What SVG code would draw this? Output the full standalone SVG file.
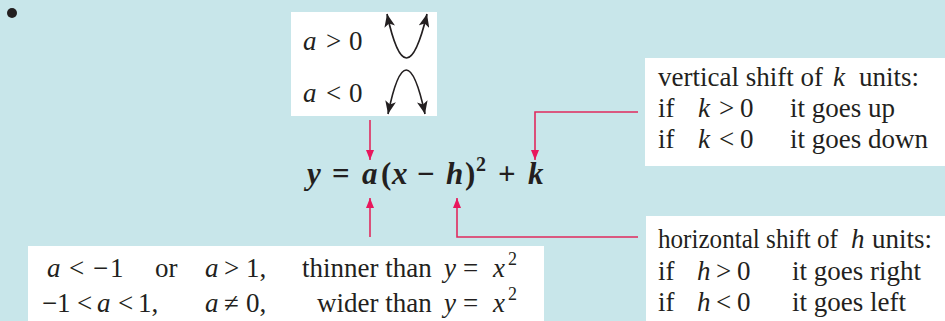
<svg xmlns="http://www.w3.org/2000/svg" width="945" height="321" viewBox="0 0 945 321">
<defs>
<style>
text{font-family:"Liberation Serif","Times New Roman",serif;font-size:27px;fill:#231f20}
.i{font-style:italic}
.f{font-weight:bold;font-style:italic;font-size:31px}
.fo{font-weight:bold;font-size:31px}
.fs{font-weight:bold;font-size:20px}
.sup{font-size:18px}
.box{fill:#ffffff}
.pk{stroke:#e02a5e;stroke-width:1.6;fill:none}
.blk{stroke:#231f20;stroke-width:1.7;fill:none}
</style>
<marker id="ap" viewBox="0 0 10 10" refX="10" refY="5" markerWidth="10" markerHeight="10" markerUnits="userSpaceOnUse" orient="auto">
<path d="M0,1 L10,5 L0,9 Z" fill="#e8175d"/>
</marker>
<marker id="ab" viewBox="0 0 12 10" refX="12" refY="5" markerWidth="13" markerHeight="11" markerUnits="userSpaceOnUse" orient="auto-start-reverse">
<path d="M0,0 L12,5 L0,10 L3,5 Z" fill="#231f20"/>
</marker>
</defs>
<rect x="0" y="0" width="945" height="321" fill="#c8e6ea"/>
<circle cx="12" cy="13" r="5" fill="#231f20"/>

<g id="sign-box">
<rect class="box" x="291" y="12" width="146" height="104"/>
<text x="303" y="50"><tspan class="i">a</tspan><tspan x="326">&gt;</tspan><tspan x="349">0</tspan></text>
<text x="303" y="102"><tspan class="i">a</tspan><tspan x="326">&lt;</tspan><tspan x="349">0</tspan></text>
<path class="blk" d="M387,14 Q406,102 427,14" marker-start="url(#ab)" marker-end="url(#ab)"/>
<path class="blk" d="M388,114 Q406,26 425,114" marker-start="url(#ab)" marker-end="url(#ab)"/>
</g>

<g id="formula">
<text y="184"><tspan class="f" x="307">y</tspan><tspan class="fo" x="332">=</tspan><tspan class="f" x="362">a</tspan><tspan class="fo" x="381">(</tspan><tspan class="f" x="392">x</tspan><tspan class="fo" x="417">−</tspan><tspan class="f" x="446">h</tspan><tspan class="fo" x="465">)</tspan><tspan class="fs" x="476" dy="-13">2</tspan><tspan class="fo" x="498" dy="13">+</tspan><tspan class="f" x="528">k</tspan></text>
</g>

<g id="vertical-box">
<rect class="box" x="645" y="58" width="300" height="108"/>
<text y="86"><tspan x="658">vertical shift of</tspan><tspan class="i" x="833">k</tspan><tspan x="859">units:</tspan></text>
<text y="117"><tspan x="658">if</tspan><tspan class="i" x="698">k</tspan><tspan x="719">&gt;</tspan><tspan x="740">0</tspan><tspan x="790">it goes up</tspan></text>
<text y="148"><tspan x="658">if</tspan><tspan class="i" x="698">k</tspan><tspan x="719">&lt;</tspan><tspan x="740">0</tspan><tspan x="790">it goes down</tspan></text>
</g>

<g id="horizontal-box">
<rect class="box" x="646" y="216" width="299" height="105"/>
<text y="248"><tspan x="658" textLength="180" lengthAdjust="spacingAndGlyphs">horizontal shift of</tspan><tspan class="i" x="851">h</tspan><tspan x="872">units:</tspan></text>
<text y="280"><tspan x="658">if</tspan><tspan class="i" x="697">h</tspan><tspan x="716">&gt;</tspan><tspan x="737">0</tspan><tspan x="792">it goes right</tspan></text>
<text y="311"><tspan x="658">if</tspan><tspan class="i" x="697">h</tspan><tspan x="716">&lt;</tspan><tspan x="737">0</tspan><tspan x="792">it goes left</tspan></text>
</g>

<g id="width-box">
<rect class="box" x="28" y="246" width="516" height="75"/>
<text y="277"><tspan class="i" x="47">a</tspan><tspan x="69">&lt;</tspan><tspan x="93">−</tspan><tspan x="110">1</tspan><tspan x="155">or</tspan><tspan class="i" x="205">a</tspan><tspan x="224">&gt;</tspan><tspan x="246">1,</tspan><tspan x="302">thinner than</tspan><tspan class="i" x="444">y</tspan><tspan x="463">=</tspan><tspan class="i" x="493">x</tspan><tspan class="sup" x="508" dy="-12">2</tspan></text>
<text y="312"><tspan x="42">−</tspan><tspan x="57">1</tspan><tspan x="77">&lt;</tspan><tspan class="i" x="97">a</tspan><tspan x="118">&lt;</tspan><tspan x="138">1,</tspan><tspan class="i" x="205">a</tspan><tspan x="224">≠</tspan><tspan x="246">0,</tspan><tspan x="317">wider than</tspan><tspan class="i" x="444">y</tspan><tspan x="463">=</tspan><tspan class="i" x="493">x</tspan><tspan class="sup" x="508" dy="-12">2</tspan></text>
</g>

<g id="connectors">
<path class="pk" d="M370,120 V160" marker-end="url(#ap)"/>
<path class="pk" d="M638,112 H535 V160" marker-end="url(#ap)"/>
<path class="pk" d="M370,237 V198" marker-end="url(#ap)"/>
<path class="pk" d="M638,237 H457 V198" marker-end="url(#ap)"/>
</g>
</svg>
